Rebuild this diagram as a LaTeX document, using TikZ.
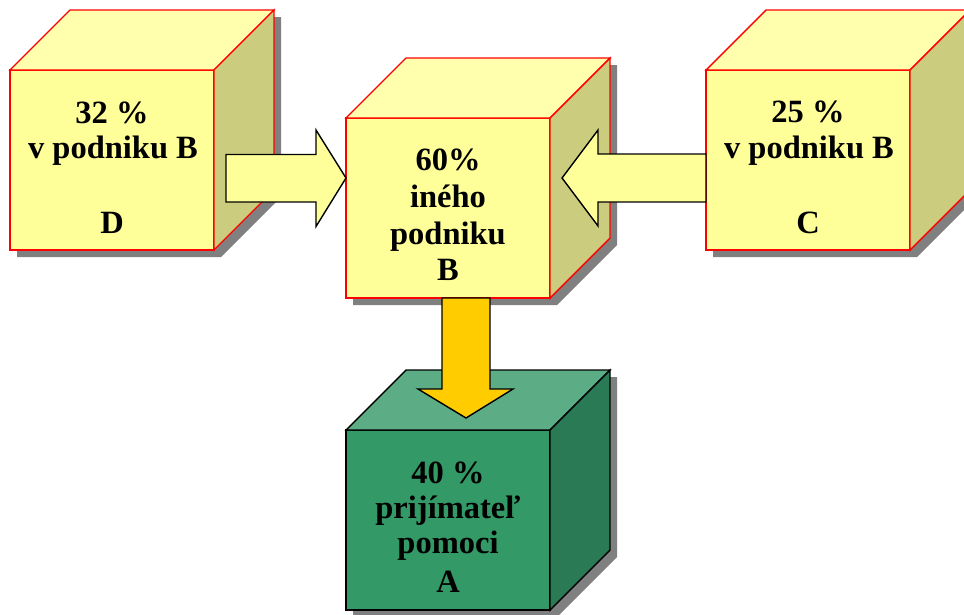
\documentclass[tikz,border=0pt]{standalone}
\usepackage{fontspec}
\setmainfont{Liberation Serif}
\usetikzlibrary{calc}
\definecolor{yfront}{HTML}{FFFF99}
\definecolor{ytop}{HTML}{FFFFAD}
\definecolor{yside}{HTML}{CCCC7F}
\definecolor{gfront}{HTML}{339966}
\definecolor{gtop}{HTML}{5CAD85}
\definecolor{gside}{HTML}{2A7A55}
\definecolor{shadowgray}{HTML}{808080}
\definecolor{arrowgold}{HTML}{FFCC00}
\newcommand\mycube[7]{%
  \fill[shadowgray] ({#2-95},{#3+97}) -- ({#2-95},{#3-83}) -- ++(60,-60) -- ++(204,0) -- ++(0,180) -- ({#2+109},{#3+97}) -- cycle;
  \node[frontface, fill=#4, draw=#7] (#1) at (#2,#3) {};
  \filldraw[face, fill=#5, draw=#7] (#1.north west) -- ++(60,-60) -- ++(204,0) -- (#1.north east) -- cycle;
  \filldraw[face, fill=#6, draw=#7] (#1.north east) -- ++(60,-60) -- ++(0,180) -- (#1.south east) -- cycle;
}
\begin{document}
\begin{tikzpicture}[x=1pt,y=-1pt,
  face/.style={line width=1.4pt, line join=miter},
  frontface/.style={minimum width=204pt, minimum height=180pt, inner sep=0pt, outer sep=0pt, line width=1.4pt},
  lbl/.style={anchor=base, font=\bfseries\fontsize{32.5}{36}\selectfont, inner sep=0pt},
  blockarrow/.style={draw=black, line width=1.4pt, line join=miter}
]
\useasboundingbox (0,0) rectangle (964,614);
\clip (0,0) rectangle (964,614);

\mycube{D}{112}{160}{yfront}{ytop}{yside}{red}
\mycube{B}{448}{208}{yfront}{ytop}{yside}{red}
\mycube{C}{808}{160}{yfront}{ytop}{yside}{red}
\mycube{A}{448}{520}{gfront}{gtop}{gside}{black}

% texts
\node[lbl] (d1) at (112,123) {32 \%};
\node[lbl] (d2) at (113,158) {v podniku B};
\node[lbl] (d3) at (112,233) {D};

\node[lbl] (b1) at (448,170) {60\%};
\node[lbl] (b2) at (448,207) {iného};
\node[lbl] (b3) at (448,244) {podniku};
\node[lbl] (b4) at (448,280) {B};

\node[lbl] (c1) at (808,122) {25 \%};
\node[lbl] (c2) at (809,158) {v podniku B};
\node[lbl] (c3) at (808,233) {C};

\node[lbl] (a1) at (448,483) {40 \%};
\node[lbl] (a2) at (448,518) {prijímateľ};
\node[lbl] (a3) at (448,553) {pomoci};
\node[lbl] (a4) at (448,592) {A};

% arrows
\coordinate (dbstart) at ([xshift=12pt,yshift=-18pt]D.east);
\coordinate (dbtip) at ([yshift=30pt]B.west);
\filldraw[blockarrow, fill=yfront] (dbstart) ++(0,-23.5) -- ++(90,0) -- ++(0,-24.5) -- (dbtip) -- ++(-30,48.5) -- ++(0,-24.5) -- ++(-90,0) -- cycle;

\coordinate (cbstart) at ([yshift=-18pt]C.west);
\coordinate (cbtip) at ([xshift=12pt,yshift=30pt]B.east);
\filldraw[blockarrow, fill=yfront] (cbstart) ++(0,-24) -- ++(-108,0) -- ++(0,-24) -- (cbtip) -- ++(36,48) -- ++(0,-24) -- ++(108,0) -- cycle;

\coordinate (abstart) at ([xshift=18pt]B.south);
\coordinate (abtip) at ([xshift=18pt,yshift=12pt]A.north);
\filldraw[blockarrow, fill=arrowgold] (abstart) ++(-24,0) -- ++(0,91) -- ++(-24,0) -- (abtip) -- ++(47,-29) -- ++(-23,0) -- ++(0,-91) -- cycle;
\end{tikzpicture}
\end{document}
